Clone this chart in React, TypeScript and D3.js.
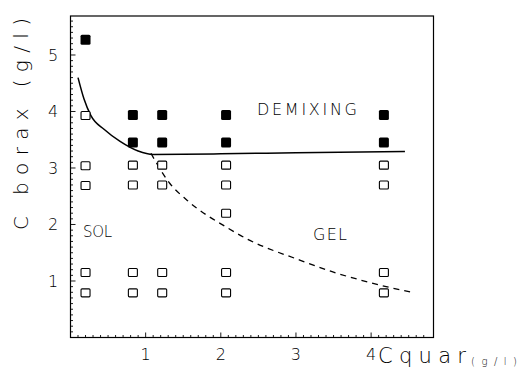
import * as d3 from "d3";

// axis ticks
const xTicks = [1, 2, 3, 4];
const yTicks = [1, 2, 3, 4, 5];

// open squares (sol / gel states)
const openX = [0.2, 0.2, 0.2, 0.2, 0.2, 0.83, 0.83, 0.83, 0.83, 1.22, 1.22, 1.22, 1.22, 2.07, 2.07, 2.07, 2.07, 2.07, 4.17, 4.17, 4.17, 4.17];
const openY = [3.93, 3.04, 2.69, 1.15, 0.79, 3.05, 2.7, 1.15, 0.79, 3.05, 2.7, 1.15, 0.79, 3.05, 2.7, 2.2, 1.15, 0.79, 3.05, 2.7, 1.15, 0.79];

// filled squares (demixing)
const filledX = [0.2, 0.83, 0.83, 1.22, 1.22, 2.07, 2.07, 4.17, 4.17];
const filledY = [5.27, 3.94, 3.45, 3.94, 3.45, 3.94, 3.45, 3.94, 3.45];

// demixing boundary (solid)
const solidX = [0.1, 0.18, 0.27, 0.45, 0.66, 0.9, 1.1, 2.0, 3.0, 4.45];
const solidY = [4.6, 4.22, 3.93, 3.68, 3.47, 3.3, 3.24, 3.25, 3.27, 3.29];

// sol-gel boundary (dashed)
const dashX = [1.07, 1.32, 1.55, 2.09, 2.34, 3.05, 3.49, 3.85, 4.2, 4.58];
const dashY = [3.26, 2.73, 2.43, 1.94, 1.75, 1.37, 1.16, 1.02, 0.9, 0.79];

const width = 523;
const height = 367;
const font = "'DejaVu Sans', sans-serif";

export default function App() {
  const x = d3.scaleLinear().domain([0, 4.83]).range([70.5, 433.5]);
  const y = d3.scaleLinear().domain([0, 5.69]).range([337.5, 16]);

  const curve = d3
    .line<[number, number]>()
    .x((d) => x(d[0]))
    .y((d) => y(d[1]))
    .curve(d3.curveMonotoneX);

  const solidPath = curve(solidX.map((v, i) => [v, solidY[i]]));
  const dashPath = curve(dashX.map((v, i) => [v, dashY[i]]));

  const xMinor = d3.range(0, 48).map((i) => i / 10);
  const yMinor = d3.range(0, 57).map((i) => i / 10);
  const [x0, x1] = x.range();
  const [y0, y1] = y.range();

  return (
    <svg width={width} height={height} style={{ position: "absolute", left: 0, top: 0, background: "#fff" }}>
      <rect x={0} y={0} width={width} height={height} fill="#fff" />
      <g fill="none" stroke="#000" strokeWidth={1.2}>
        <rect x={x0} y={y1} width={x1 - x0} height={y0 - y1} />
        {xMinor.map((t, i) => (
          <line key={`xm-${i}`} x1={x(t)} x2={x(t)} y1={y0} y2={y0 - (i % 10 === 0 ? 5 : 2.5)} strokeWidth={0.9} />
        ))}
        {yMinor.map((t, i) => (
          <line key={`ym-${i}`} x1={x0} x2={x0 + (i % 10 === 0 ? 5 : 2.5)} y1={y(t)} y2={y(t)} strokeWidth={0.9} />
        ))}
      </g>

      <g fontFamily={font} fontWeight={200} fontSize={16} fill="#000">
        {yTicks.map((t) => (
          <text key={`yt-${t}`} x={53} y={y(t)} dy="0.36em" textAnchor="middle">{t}</text>
        ))}
        {xTicks.map((t) => (
          <text key={`xt-${t}`} x={x(t)} y={360} textAnchor="middle">{t}</text>
        ))}
        <text transform="translate(28, 124) rotate(-90)" textAnchor="middle" fontSize={20} textLength={212} lengthAdjust="spacing">C borax (g/l)</text>
        <text x={378} y={363} fontSize={21} textLength={88} lengthAdjust="spacing">Cquar</text>
        <text x={471} y={365} fontSize={10} textLength={46} lengthAdjust="spacing">(g/l)</text>
        <text x={83} y={237} fontSize={15} textLength={29} lengthAdjust="spacing">SOL</text>
        <text x={257} y={115} fontSize={16} textLength={100} lengthAdjust="spacing">DEMIXING</text>
        <text x={313} y={240} fontSize={16} textLength={34} lengthAdjust="spacing">GEL</text>
      </g>

      <path d={solidPath ?? ""} fill="none" stroke="#000" strokeWidth={1.5} />
      <path d={dashPath ?? ""} fill="none" stroke="#000" strokeWidth={1.3} strokeDasharray="6 5" />

      {openX.map((v, i) => (
        <rect key={`o-${i}`} x={x(v) - 4.5} y={y(openY[i]) - 4} width={9} height={8} rx={1} fill="#fff" stroke="#000" strokeWidth={1.1} />
      ))}
      {filledX.map((v, i) => (
        <rect key={`f-${i}`} x={x(v) - 5} y={y(filledY[i]) - 5} width={10} height={10} rx={1.5} fill="#000" />
      ))}
    </svg>
  );
}
